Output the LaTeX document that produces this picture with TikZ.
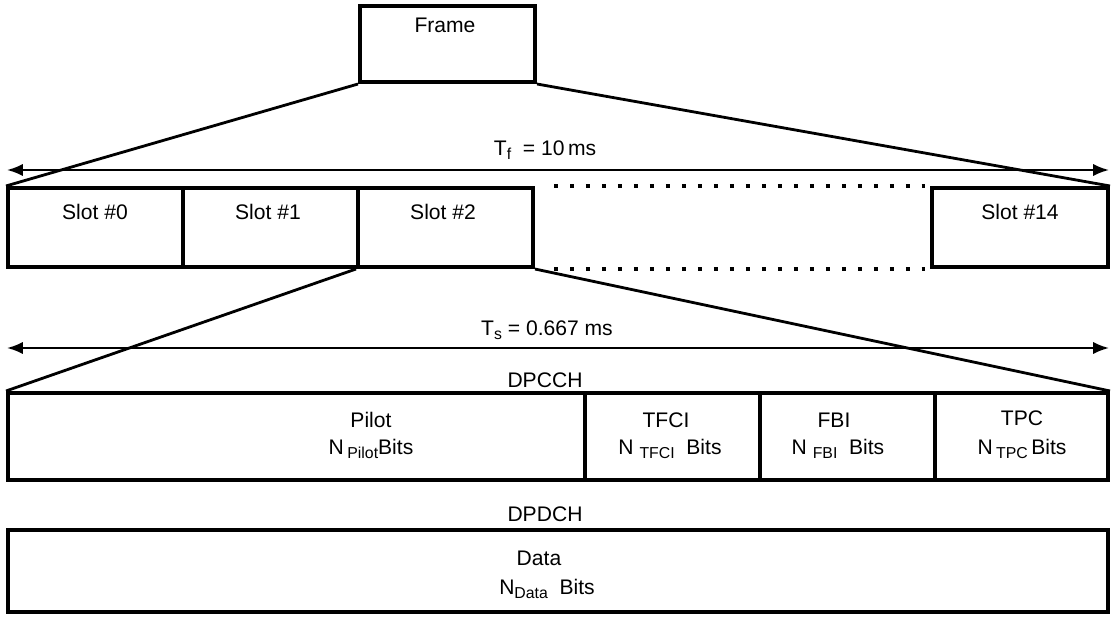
\documentclass[tikz,border=0pt]{standalone}
\usepackage{fontspec}
\setmainfont{Liberation Sans}
\usetikzlibrary{arrows.meta}

\newcommand{\lowsub}[1]{\raisebox{-2.5pt}{\fontsize{9}{10}\selectfont #1}}

\begin{document}
\begin{tikzpicture}[
    x=0.02cm, y=-0.02cm,
    every node/.style={font=\fontsize{12}{14}\selectfont},
    box/.style={
        draw,
        line width=2.3pt,
        inner sep=0pt,
        minimum width=3.5cm,
        minimum height=1.58cm
    },
    txt/.style={inner sep=1pt},
    fan/.style={line width=1.6pt},
    span/.style={{Latex[length=9pt,width=7pt]}-{Latex[length=9pt,width=7pt]}, line width=1.3pt},
    dots/.style={line width=2.3pt, dash pattern=on 2.3pt off 6.8pt}
]
    \useasboundingbox (0,0) rectangle (1111,618);

    % Frame
    \node[box, minimum height=1.52cm] (frame) at (447.5,44) {};
    \node[txt] (frameT) at (445,25) {Frame};

    % Slots
    \node[box] (s0) at (95.5,227.5) {};
    \node[box] (s1) at (270.5,227.5) {};
    \node[box] (s2) at (445.5,227.5) {};
    \node[box, minimum width=3.52cm] (s14) at (1020,227.5) {};
    \node[txt] (s0T) at (95,212) {Slot \#0};
    \node[txt] (s1T) at (268,212) {Slot \#1};
    \node[txt] (s2T) at (443,212) {Slot \#2};
    \node[txt] (s14T) at (1020,212) {Slot \#14};

    \draw[dots] (s2.north east) ++(19,0) -- ([xshift=-0.1cm]s14.north west);
    \draw[dots] (s2.south east) ++(19,0) -- ([xshift=-0.1cm]s14.south west);

    \draw[fan] (frame.south west) -- (s0.north west);
    \draw[fan] (frame.south east) -- (s14.north east);

    % Frame length
    \coordinate (tfL) at (7,170);
    \coordinate (tfR) at (1109,170);
    \draw[span] (tfL) -- (tfR);
    \node[txt] (tfT) at (545,150) {T\lowsub{f}\ \ = 10\,ms};

    % DPCCH
    \node[box, minimum width=11.54cm, minimum height=1.74cm] (pilot) at (296.5,436.5) {};
    \node[box, minimum height=1.74cm] (tfci) at (672.5,436.5) {};
    \node[box, minimum height=1.74cm] (fbi) at (847.5,436.5) {};
    \node[box, minimum width=3.46cm, minimum height=1.74cm] (tpc) at (1021.5,436.5) {};
    \node[txt] (ctrlT) at (545,380) {DPCCH};

    \node[txt] (pilotA) at (371,420) {Pilot};
    \node[txt] (pilotB) at (371,449) {N\,\lowsub{Pilot}Bits};
    \node[txt] (tfciA) at (666,420) {TFCI};
    \node[txt] (tfciB) at (670,449) {N\ \lowsub{TFCI}\ \ Bits};
    \node[txt] (fbiA) at (834,420) {FBI};
    \node[txt] (fbiB) at (838,449) {N\ \lowsub{FBI}\ \ Bits};
    \node[txt] (tpcA) at (1022,418) {TPC};
    \node[txt] (tpcB) at (1022,449) {N\,\lowsub{TPC}\,Bits};

    \draw[fan] (s2.south west) -- (pilot.north west);
    \draw[fan] (s2.south east) -- (tpc.north east);

    % Slot length
    \coordinate (tsL) at (7,348);
    \coordinate (tsR) at (1109,348);
    \draw[span] (tsL) -- (tsR);
    \node[txt] (tsT) at (547,330) {T\lowsub{s}\ = 0.667 ms};

    % DPDCH
    \node[box, minimum width=22cm, minimum height=1.64cm] (data) at (558,571) {};
    \node[txt] (dataT) at (545,514) {DPDCH};
    \node[txt] (dataA) at (539,558) {Data};
    \node[txt] (dataB) at (547,589) {N\lowsub{Data}\ \ Bits};

\end{tikzpicture}
\end{document}
